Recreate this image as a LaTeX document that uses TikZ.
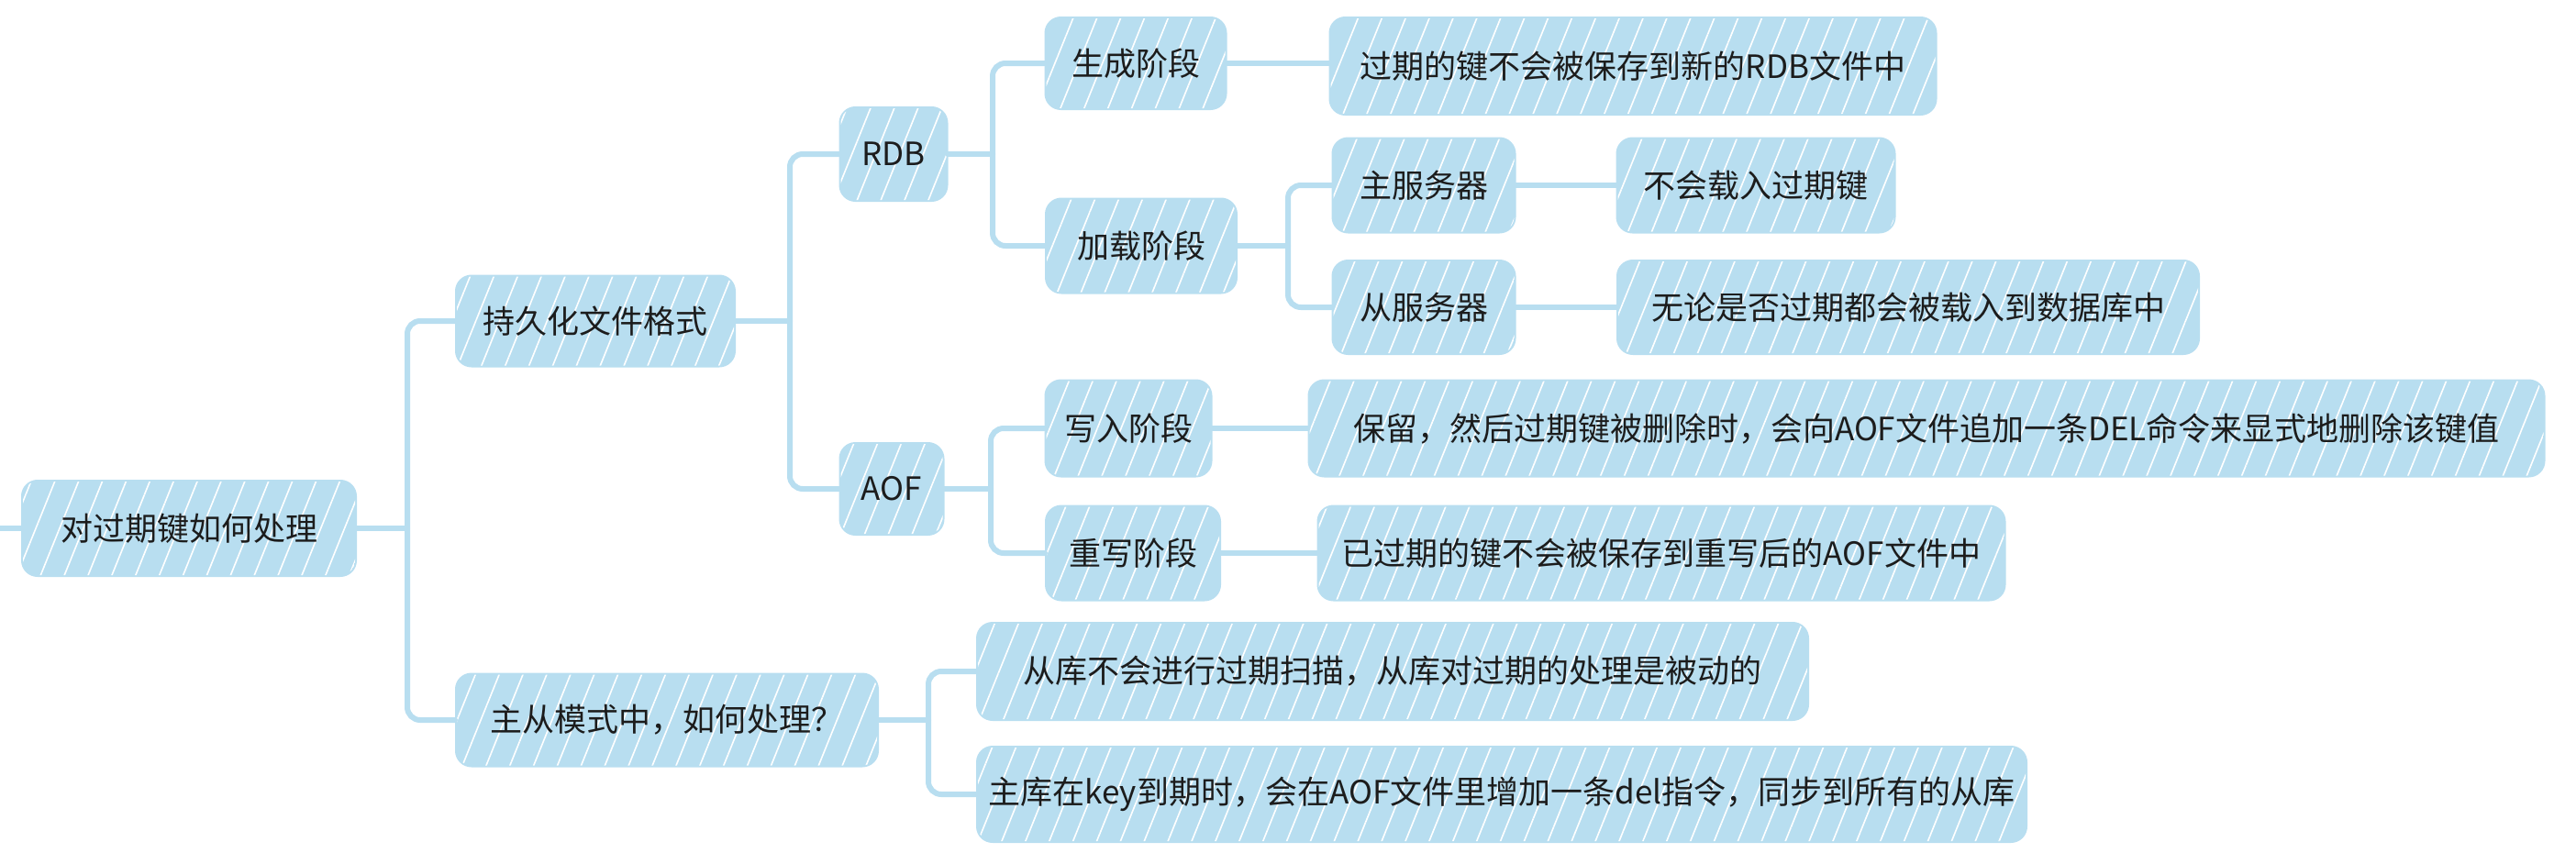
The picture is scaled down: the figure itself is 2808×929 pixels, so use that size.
\documentclass[tikz,border=0pt]{standalone}
\usepackage{fontspec}
\setmainfont{Noto Sans CJK SC}
\usetikzlibrary{patterns.meta}
\definecolor{boxblue}{RGB}{184,222,240}
\definecolor{inkc}{RGB}{28,28,28}
\begin{document}
\begin{tikzpicture}[x=1pt,y=-1pt,
  box/.style={draw=boxblue, fill=boxblue, line width=4pt, rounded corners=16pt,
    text=inkc, font=\fontsize{35}{40}\selectfont, inner sep=0pt, align=center,
    postaction={pattern={Lines[angle=68,distance=24pt,line width=1.6pt]}, pattern color=white, fill opacity=0.5}},
  conn/.style={draw=boxblue, line width=6pt, line cap=round},
  elbow/.style={conn, rounded corners=14pt}]
\useasboundingbox (0,0) rectangle (2808,929);
% nodes
\node[box, minimum width=362pt, minimum height=102pt] (root) at (206,576) {对过期键如何处理};
\node[box, minimum width=302pt, minimum height=97pt] (persist) at (649,350) {持久化文件格式};
\node[box, minimum width=458pt, minimum height=99pt] (ms) at (727,785) {主从模式中，如何处理？};
\node[box, minimum width=115pt, minimum height=100pt] (rdb) at (974,168) {RDB};
\node[box, minimum width=111pt, minimum height=98pt] (aof) at (972,533) {AOF};
\node[box, minimum width=195pt, minimum height=98pt] (gen) at (1238,69) {生成阶段};
\node[box, minimum width=206pt, minimum height=101pt] (load) at (1244,268) {加载阶段};
\node[box, minimum width=659pt, minimum height=104pt] (genD) at (1780,72) {过期的键不会被保存到新的RDB文件中};
\node[box, minimum width=197pt, minimum height=101pt] (master) at (1552,202) {主服务器};
\node[box, minimum width=197pt, minimum height=100pt] (slave) at (1552,335) {从服务器};
\node[box, minimum width=301pt, minimum height=101pt] (masterD) at (1914,202) {不会载入过期键};
\node[box, minimum width=632pt, minimum height=100pt] (slaveD) at (2080,335) {无论是否过期都会被载入到数据库中};
\node[box, minimum width=179pt, minimum height=103pt] (write) at (1230,467) {写入阶段};
\node[box, minimum width=188pt, minimum height=101pt] (rewrite) at (1235,603) {重写阶段};
\node[box, minimum width=1345pt, minimum height=103pt] (writeD) at (2100,467) {保留，然后过期键被删除时，会向AOF文件追加一条DEL命令来显式地删除该键值};
\node[box, minimum width=747pt, minimum height=101pt] (rewriteD) at (1811,603) {已过期的键不会被保存到重写后的AOF文件中};
\node[box, minimum width=904pt, minimum height=104pt] (ms1) at (1518,732) {从库不会进行过期扫描，从库对过期的处理是被动的};
\node[box, minimum width=1142pt, minimum height=102pt] (ms2) at (1637,866) {主库在key到期时，会在AOF文件里增加一条del指令，同步到所有的从库};
% trunk points
\coordinate (lstub) at (0,576);
\coordinate (t0) at (444,576);
\coordinate (t1) at (861,350);
\coordinate (t2) at (1082,168);
\coordinate (t3) at (1404,268);
\coordinate (t4) at (1080,533);
\coordinate (t5) at (1012,785);
% connectors
\draw[conn] (lstub) -- (root.west);
\draw[conn] (root.east) -- (t0);
\draw[elbow] (t0) |- (persist.west);
\draw[elbow] (t0) |- (ms.west);
\draw[conn] (persist.east) -- (t1);
\draw[elbow] (t1) |- (rdb.west);
\draw[elbow] (t1) |- (aof.west);
\draw[conn] (rdb.east) -- (t2);
\draw[elbow] (t2) |- (gen.west);
\draw[elbow] (t2) |- (load.west);
\draw[conn] (gen.east) -- (gen.east -| genD.west);
\draw[conn] (load.east) -- (t3);
\draw[elbow] (t3) |- (master.west);
\draw[elbow] (t3) |- (slave.west);
\draw[conn] (master.east) -- (masterD.west);
\draw[conn] (slave.east) -- (slaveD.west);
\draw[conn] (aof.east) -- (t4);
\draw[elbow] (t4) |- (write.west);
\draw[elbow] (t4) |- (rewrite.west);
\draw[conn] (write.east) -- (writeD.west);
\draw[conn] (rewrite.east) -- (rewriteD.west);
\draw[conn] (ms.east) -- (t5);
\draw[elbow] (t5) |- (ms1.west);
\draw[elbow] (t5) |- (ms2.west);
\end{tikzpicture}
\end{document}
